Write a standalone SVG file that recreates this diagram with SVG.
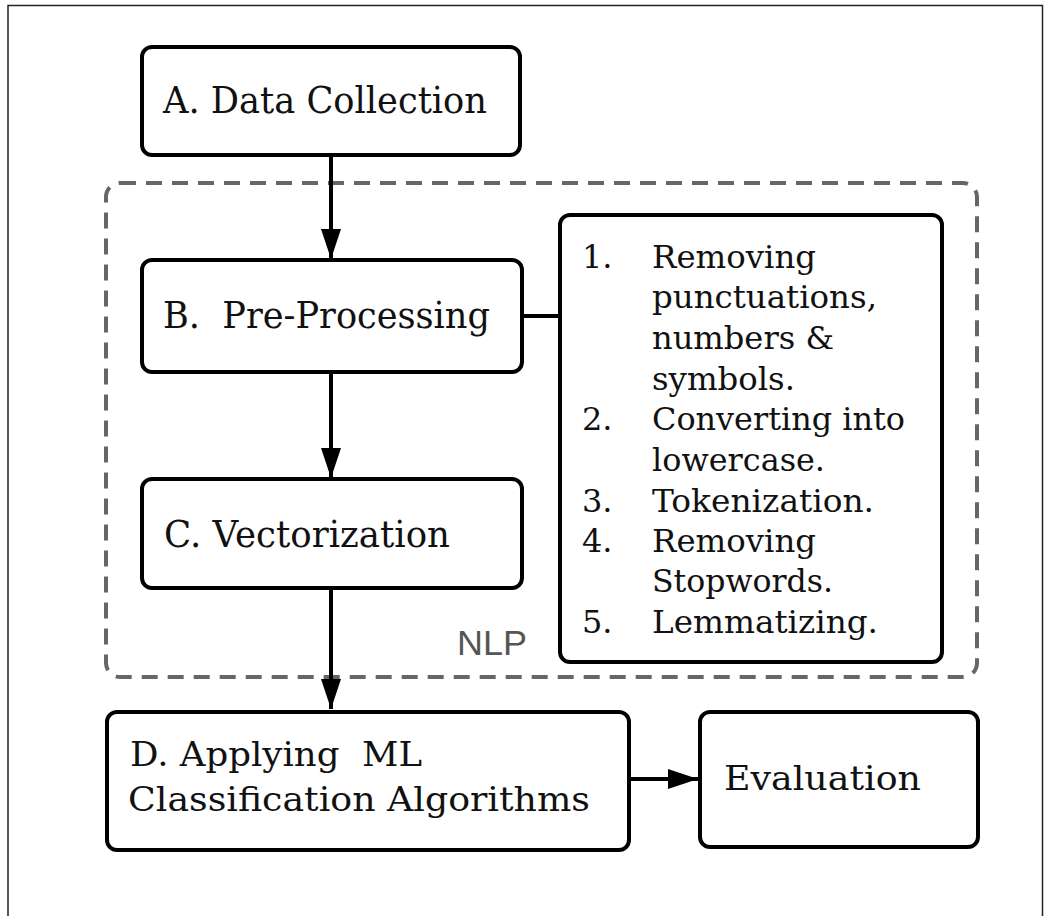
<svg xmlns="http://www.w3.org/2000/svg" width="1050" height="916" viewBox="0 0 1050 916">
<style>
.box{fill:#fff;stroke:#000;stroke-width:4}
.t{font-family:"DejaVu Serif","Liberation Serif",serif;fill:#111}
.big{font-size:37px}
.mid{font-size:34px}
.li{font-size:32px}
.conn{stroke:#000;stroke-width:4;fill:none}
.nlp{fill:none;stroke:#666;stroke-width:4;stroke-dasharray:16 10}
</style>
<defs>
<marker id="ah" viewBox="0 0 30 20" refX="30" refY="10" markerWidth="30" markerHeight="20" markerUnits="userSpaceOnUse" orient="auto">
<path d="M0,0 L30,10 L0,20 Z" fill="#000"/>
</marker>
</defs>
<rect width="1050" height="916" fill="#fff"/>
<path d="M8,920 V5.5 H1042.5 V920" fill="none" stroke="#222" stroke-width="1.5"/>
<g id="nlp">
<rect class="nlp" x="106" y="183" width="871" height="494" rx="14"/>
<text x="457" y="655" font-family="'Liberation Sans',Arial,sans-serif" font-size="35" fill="#555" textLength="70" lengthAdjust="spacingAndGlyphs">NLP</text>
</g>
<g id="connectors">
<line class="conn" x1="331" y1="155" x2="331" y2="259" marker-end="url(#ah)"/>
<line class="conn" x1="331" y1="372" x2="331" y2="478" marker-end="url(#ah)"/>
<line class="conn" x1="331" y1="588" x2="331" y2="709" marker-end="url(#ah)"/>
<line class="conn" x1="629" y1="779" x2="698" y2="779" marker-end="url(#ah)"/>
<line class="conn" x1="522" y1="316" x2="560" y2="316"/>
</g>
<g id="nodeA">
<rect class="box" x="142" y="47" width="378" height="108" rx="10"/>
<text class="t big" x="163" y="113" textLength="324" lengthAdjust="spacingAndGlyphs">A. Data Collection</text>
</g>
<g id="nodeB">
<rect class="box" x="142" y="260" width="380" height="112" rx="10"/>
<text class="t big" x="163" y="328" textLength="327" lengthAdjust="spacingAndGlyphs" xml:space="preserve">B.  Pre-Processing</text>
</g>
<g id="nodeC">
<rect class="box" x="142" y="479" width="380" height="109" rx="10"/>
<text class="t big" x="164" y="547" textLength="286" lengthAdjust="spacingAndGlyphs">C. Vectorization</text>
</g>
<g id="steps">
<rect class="box" x="560" y="215" width="382" height="447" rx="10"/>
<g class="t li">
<text x="582" y="268">1.</text>
<text x="652" y="268" textLength="164" lengthAdjust="spacingAndGlyphs">Removing</text>
<text x="652" y="308" textLength="225" lengthAdjust="spacingAndGlyphs">punctuations,</text>
<text x="652" y="349" textLength="182" lengthAdjust="spacingAndGlyphs">numbers &amp;</text>
<text x="652" y="390" textLength="143" lengthAdjust="spacingAndGlyphs">symbols.</text>
<text x="582" y="430">2.</text>
<text x="652" y="430" textLength="253" lengthAdjust="spacingAndGlyphs">Converting into</text>
<text x="652" y="471" textLength="173" lengthAdjust="spacingAndGlyphs">lowercase.</text>
<text x="582" y="512">3.</text>
<text x="652" y="512" textLength="222" lengthAdjust="spacingAndGlyphs">Tokenization.</text>
<text x="582" y="552">4.</text>
<text x="652" y="552" textLength="164" lengthAdjust="spacingAndGlyphs">Removing</text>
<text x="652" y="592" textLength="181" lengthAdjust="spacingAndGlyphs">Stopwords.</text>
<text x="582" y="633">5.</text>
<text x="652" y="633" textLength="226" lengthAdjust="spacingAndGlyphs">Lemmatizing.</text>
</g>
</g>
<g id="nodeD">
<rect class="box" x="107" y="712" width="522" height="138" rx="10"/>
<text class="t mid" x="130" y="766" textLength="292" lengthAdjust="spacingAndGlyphs" xml:space="preserve">D. Applying  ML</text>
<text class="t mid" x="128" y="811" textLength="462" lengthAdjust="spacingAndGlyphs">Classification Algorithms</text>
</g>
<g id="nodeE">
<rect class="box" x="700" y="712" width="278" height="135" rx="10"/>
<text class="t mid" x="724" y="790" textLength="197" lengthAdjust="spacingAndGlyphs">Evaluation</text>
</g>
</svg>
